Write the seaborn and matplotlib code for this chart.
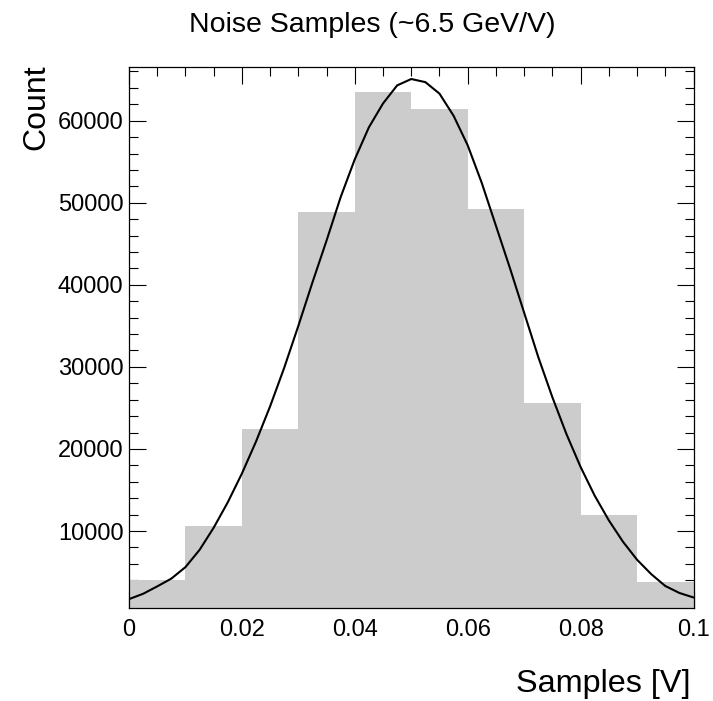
import matplotlib
matplotlib.use("Agg")
import matplotlib.pyplot as plt
from matplotlib.ticker import MultipleLocator, FixedLocator
import seaborn as sns
import pandas as pd

# ---- data ----
bin_edges = [0.0, 0.01, 0.02, 0.03, 0.04, 0.05, 0.06, 0.07, 0.08, 0.09, 0.10]
bin_centers = [0.005, 0.015, 0.025, 0.035, 0.045, 0.055, 0.065, 0.075, 0.085, 0.095]
bin_counts = [4030, 10650, 22480, 48900, 63530, 61390, 49200, 25560, 11950, 3830]

fit_x = [0.0000, 0.0025, 0.0050, 0.0075, 0.0100, 0.0125, 0.0150, 0.0175,
         0.0200, 0.0225, 0.0250, 0.0275, 0.0300, 0.0325, 0.0350, 0.0375,
         0.0400, 0.0425, 0.0450, 0.0475, 0.0500, 0.0525, 0.0550, 0.0575,
         0.0600, 0.0625, 0.0650, 0.0675, 0.0700, 0.0725, 0.0750, 0.0775,
         0.0800, 0.0825, 0.0850, 0.0875, 0.0900, 0.0925, 0.0950, 0.0975,
         0.1000]
fit_y = [1700, 2350, 3250, 4200, 5600, 7700, 10400, 13500,
         17000, 20900, 25200, 29900, 35000, 40300, 45400, 50700,
         55300, 59200, 62100, 64300, 65080, 64700, 63300, 60600,
         57000, 52400, 47200, 42000, 36600, 31200, 26300, 21800,
         17800, 14300, 11300, 8700, 6500, 4750, 3300, 2450,
         1900]

x_ticks = [0, 0.02, 0.04, 0.06, 0.08, 0.1]
x_tick_labels = ["0", "0.02", "0.04", "0.06", "0.08", "0.1"]
y_ticks = [10000, 20000, 30000, 40000, 50000, 60000]
y_tick_labels = ["10000", "20000", "30000", "40000", "50000", "60000"]

title = "Noise Samples (~6.5 GeV/V)"
x_label = "Samples [V]"
y_label = "Count"

# ---- style ----
sns.set_style("ticks")
plt.rcParams["font.family"] = ["Liberation Sans", "DejaVu Sans"]
plt.rcParams["text.color"] = "black"
plt.rcParams["xtick.color"] = "black"
plt.rcParams["ytick.color"] = "black"
plt.rcParams["axes.labelcolor"] = "black"

W, H = 713, 701
fig = plt.figure(figsize=(W / 100, H / 100), dpi=100)
ax = fig.add_axes([129 / W, 1 - 608 / H, (693.5 - 129) / W, (608 - 67) / H])

hist_df = pd.DataFrame({"x": bin_centers, "w": bin_counts})
sns.histplot(data=hist_df, x="x", weights="w", bins=bin_edges, ax=ax,
             color="#cccccc", alpha=1.0, edgecolor="none", linewidth=0)

fit_df = pd.DataFrame({"x": fit_x, "y": fit_y})
sns.lineplot(data=fit_df, x="x", y="y", ax=ax, color="black", linewidth=1.5,
             sort=True, estimator=None)

ax.set_xlim(0, 0.1)
ax.set_ylim(617, 66544)

ax.xaxis.set_major_locator(FixedLocator(x_ticks))
ax.set_xticklabels(x_tick_labels)
ax.xaxis.set_minor_locator(MultipleLocator(0.005))
ax.yaxis.set_major_locator(FixedLocator(y_ticks))
ax.set_yticklabels(y_tick_labels)
ax.yaxis.set_minor_locator(MultipleLocator(2000))

ax.tick_params(which="both", direction="in", top=True, right=True,
               width=0.8, color="black", labelcolor="black", labelsize=17)
ax.tick_params(which="major", length=12.5)
ax.tick_params(which="minor", length=6.5)
ax.tick_params(axis="x", which="major", pad=8)
ax.tick_params(axis="y", which="major", pad=4)

for s in ax.spines.values():
    s.set_visible(True)
    s.set_linewidth(0.9)
    s.set_color("black")

ax.set_xlabel("")
ax.set_ylabel("")

fig.text(372 / W, 1 - 32 / H, title, ha="center", va="baseline", fontsize=20.5,
         color="black")
fig.text(690 / W, 1 - 692 / H, x_label, ha="right", va="baseline", fontsize=23.3,
         color="black")
fig.text(21 / W, 1 - 64 / H, y_label, ha="left", va="top", rotation=90,
         fontsize=23, color="black")

fig.savefig("out.png", dpi=100)
